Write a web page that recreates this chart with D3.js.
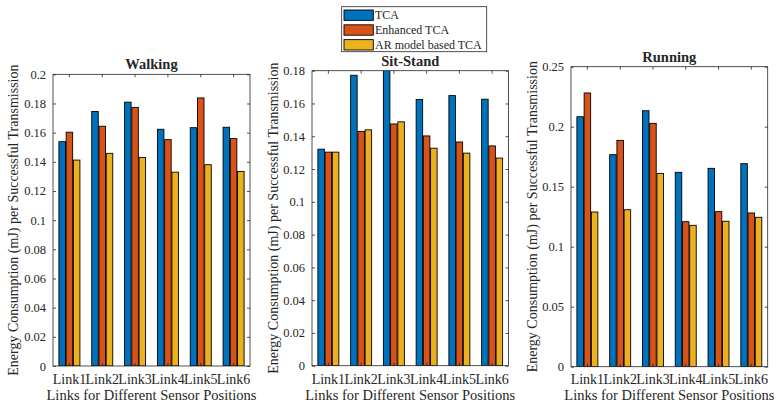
<!DOCTYPE html>
<html>
<head>
<meta charset="utf-8">
<script src="https://cdn.jsdelivr.net/npm/d3@7"></script>
<style>
  html, body { margin: 0; padding: 0; background: #fff; }
  svg { display: block; }
  text { font-family: "Liberation Serif", "DejaVu Serif", serif; fill: #262626; }
</style>
</head>
<body>
<svg id="chart" width="776" height="404"></svg>
<script>
const categories = ["Link1", "Link2", "Link3", "Link4", "Link5", "Link6"];
const seriesNames = ["TCA", "Enhanced TCA", "AR model based TCA"];
const seriesColors = ["#0072BD", "#D95319", "#EDB120"];

const walkingTCA = [0.1538, 0.1745, 0.1809, 0.1623, 0.1634, 0.1637];
const walkingEnhanced = [0.1603, 0.1644, 0.1773, 0.1552, 0.1838, 0.1559];
const walkingAR = [0.1412, 0.1458, 0.1430, 0.1329, 0.1380, 0.1334];

const sitStandTCA = [0.1321, 0.1772, 0.1830, 0.1624, 0.1648, 0.1626];
const sitStandEnhanced = [0.1303, 0.1430, 0.1475, 0.1402, 0.1365, 0.1341];
const sitStandAR = [0.1303, 0.1439, 0.1488, 0.1327, 0.1297, 0.1267];

const runningTCA = [0.2083, 0.1767, 0.2133, 0.1620, 0.1653, 0.1692];
const runningEnhanced = [0.2281, 0.1886, 0.2028, 0.1208, 0.1292, 0.1281];
const runningAR = [0.1289, 0.1308, 0.1611, 0.1178, 0.1212, 0.1245];

const walkingTicks = [0, 0.02, 0.04, 0.06, 0.08, 0.1, 0.12, 0.14, 0.16, 0.18, 0.2];
const sitStandTicks = [0, 0.02, 0.04, 0.06, 0.08, 0.1, 0.12, 0.14, 0.16, 0.18];
const runningTicks = [0, 0.05, 0.1, 0.15, 0.2, 0.25];

const yLabel = "Energy Consumption (mJ) per Successful Transmission";
const xLabel = "Links for Different Sensor Positions";

const panels = [
  { title: "Walking", series: [walkingTCA, walkingEnhanced, walkingAR], ticks: walkingTicks,
    box: { x0: 53, x1: 250, y0: 74.3, y1: 366 }, ylabX: 18 },
  { title: "Sit-Stand", series: [sitStandTCA, sitStandEnhanced, sitStandAR], ticks: sitStandTicks,
    box: { x0: 312, x1: 508.5, y0: 70.7, y1: 365.7 }, ylabX: 278 },
  { title: "Running", series: [runningTCA, runningEnhanced, runningAR], ticks: runningTicks,
    box: { x0: 571, x1: 767.7, y0: 66.7, y1: 366.7 }, ylabX: 537 }
];

const svg = d3.select("#chart");
const axisColor = "#262626";
const fmt = d3.format(".2~f");
const tickLen = 3;

panels.forEach((p, pi) => {
  const b = p.box;
  const yMax = p.ticks[p.ticks.length - 1];
  const y = d3.scaleLinear().domain([0, yMax]).range([b.y1, b.y0]);
  const x = d3.scaleBand().domain(categories).range([b.x0, b.x1]).paddingInner(0).paddingOuter(0);
  const groupW = x.bandwidth() * 0.64;
  const xi = d3.scaleBand().domain(d3.range(seriesNames.length)).range([0, groupW]).paddingInner(0.1).paddingOuter(0);

  const g = svg.append("g");

  const clipId = "clip" + pi;
  svg.append("defs").append("clipPath").attr("id", clipId)
    .append("rect").attr("x", b.x0).attr("y", b.y0).attr("width", b.x1 - b.x0).attr("height", b.y1 - b.y0);

  const barsG = g.append("g").attr("clip-path", `url(#${clipId})`);
  p.series.forEach((vals, si) => {
    barsG.selectAll(null).data(vals).enter().append("rect")
      .attr("x", (d, i) => x(categories[i]) + x.bandwidth() / 2 - groupW / 2 + xi(si))
      .attr("y", d => y(d))
      .attr("width", xi.bandwidth())
      .attr("height", d => y(0) - y(d))
      .attr("fill", seriesColors[si])
      .attr("stroke", "#000")
      .attr("stroke-width", 0.9);
  });

  // Box
  g.append("rect").attr("x", b.x0).attr("y", b.y0).attr("width", b.x1 - b.x0).attr("height", b.y1 - b.y0)
    .attr("fill", "none").attr("stroke", axisColor).attr("stroke-width", 0.8);

  // Y axis (left) with inward ticks
  const yAxisL = d3.axisLeft(y).tickValues(p.ticks).tickFormat(fmt).tickSizeInner(-tickLen).tickSizeOuter(0).tickPadding(7);
  const gl = g.append("g").attr("transform", `translate(${b.x0},0)`).call(yAxisL);
  gl.select(".domain").remove();
  gl.selectAll(".tick line").attr("stroke", axisColor).attr("stroke-width", 0.8);
  gl.selectAll(".tick text").attr("font-size", 12.5).attr("fill", axisColor)
    .style("font-family", '"Liberation Serif", serif');

  const yAxisR = d3.axisRight(y).tickValues(p.ticks).tickFormat("").tickSizeInner(-tickLen).tickSizeOuter(0);
  const gr = g.append("g").attr("transform", `translate(${b.x1},0)`).call(yAxisR);
  gr.select(".domain").remove();
  gr.selectAll(".tick line").attr("stroke", axisColor).attr("stroke-width", 0.8);

  // X axis
  const xAxisB = d3.axisBottom(x).tickSizeInner(-tickLen).tickSizeOuter(0).tickPadding(8);
  const gb = g.append("g").attr("transform", `translate(0,${b.y1})`).call(xAxisB);
  gb.select(".domain").remove();
  gb.selectAll(".tick line").attr("stroke", axisColor).attr("stroke-width", 0.8);
  gb.selectAll(".tick text").attr("font-size", 14).attr("fill", axisColor)
    .attr("y", null).attr("dy", null)
    .attr("transform", `translate(0,${384 - b.y1})`)
    .style("font-family", '"Liberation Serif", serif');

  const xAxisT = d3.axisTop(x).tickFormat("").tickSizeInner(-tickLen).tickSizeOuter(0);
  const gt = g.append("g").attr("transform", `translate(0,${b.y0})`).call(xAxisT);
  gt.select(".domain").remove();
  gt.selectAll(".tick line").attr("stroke", axisColor).attr("stroke-width", 0.8);

  // Title
  g.append("text").attr("x", (b.x0 + b.x1) / 2).attr("y", b.y0 - 5)
    .attr("text-anchor", "middle").attr("font-size", 14.5).attr("font-weight", "bold")
    .attr("fill", "#000").text(p.title);

  // X label
  g.append("text").attr("x", (b.x0 + b.x1) / 2).attr("y", 400)
    .attr("text-anchor", "middle").attr("font-size", 14.5).text(xLabel);

  // Y label
  g.append("text").attr("transform", `translate(${p.ylabX},${(b.y0 + b.y1) / 2}) rotate(-90)`)
    .attr("text-anchor", "middle").attr("font-size", 14).text(yLabel);
});

// Legend
const lg = svg.append("g");
lg.append("rect").attr("x", 341.7).attr("y", 6.7).attr("width", 145).attr("height", 45)
  .attr("fill", "#fff").attr("stroke", axisColor).attr("stroke-width", 0.8);
const legY = d3.scaleBand().domain(seriesNames).range([10, 50]).paddingInner(0.3);
seriesNames.forEach((name, i) => {
  lg.append("rect").attr("x", 344).attr("y", legY(name)).attr("width", 29.3).attr("height", legY.bandwidth())
    .attr("fill", seriesColors[i]).attr("stroke", "#000").attr("stroke-width", 0.9);
  lg.append("text").attr("x", 375).attr("y", legY(name) + legY.bandwidth() / 2 + 4.2)
    .attr("font-size", 12).attr("fill", "#000").text(name);
});
</script>
</body>
</html>
